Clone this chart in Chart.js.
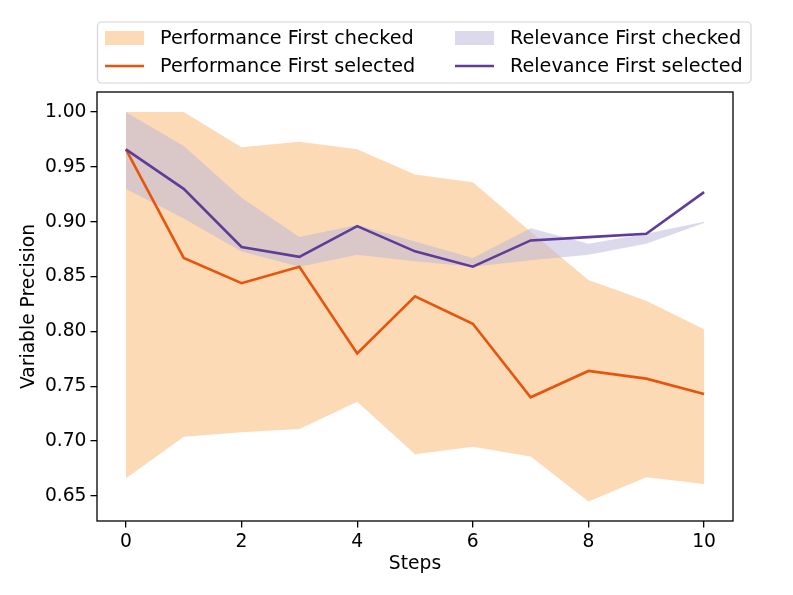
<!DOCTYPE html>
<html>
<head>
<meta charset="utf-8">
<script src="https://cdn.jsdelivr.net/npm/chart.js@4.4.1/dist/chart.umd.min.js"></script>
<style>
  html, body { margin: 0; padding: 0; background: #fff; }
  #wrap { width: 793px; height: 595px; }
</style>
</head>
<body>
<div id="wrap"><canvas id="chart" width="793" height="595"></canvas></div>
<script>
const steps = [0, 1, 2, 3, 4, 5, 6, 7, 8, 9, 10];
const xTicks = [0, 2, 4, 6, 8, 10];
const yTicks = [0.65, 0.70, 0.75, 0.80, 0.85, 0.90, 0.95, 1.00];

const perfSelected = [0.966, 0.867, 0.844, 0.859, 0.780, 0.832, 0.807, 0.740, 0.764, 0.757, 0.743];
const perfCheckedHigh = [1.000, 1.000, 0.968, 0.973, 0.966, 0.943, 0.936, 0.891, 0.847, 0.828, 0.802];
const perfCheckedLow = [0.666, 0.704, 0.708, 0.711, 0.736, 0.688, 0.695, 0.686, 0.645, 0.667, 0.661];

const relSelected = [0.966, 0.930, 0.877, 0.868, 0.896, 0.873, 0.859, 0.883, 0.886, 0.889, 0.927];
const relCheckedHigh = [1.000, 0.969, 0.922, 0.886, 0.897, 0.882, 0.867, 0.894, 0.880, 0.889, 0.900];
const relCheckedLow = [0.930, 0.903, 0.873, 0.859, 0.870, 0.864, 0.859, 0.865, 0.870, 0.880, 0.899];

const ORANGE_FILL = "rgba(253, 208, 162, 0.78)";
const PURPLE_FILL = "rgba(183, 180, 216, 0.5)";
const ORANGE_LINE = "#e6550d";
const PURPLE_LINE = "#5e3c99";
const FONT = "'DejaVu Sans', sans-serif";

const pts = (ys) => steps.map((x, i) => ({ x: x, y: ys[i] }));

function band(ys, color, fillTarget, order) {
  return {
    data: pts(ys),
    borderWidth: 0,
    pointRadius: 0,
    backgroundColor: color,
    fill: fillTarget,
    order: order,
  };
}

// box around the plot, like matplotlib spines
const frame = {
  id: "frame",
  afterDatasetsDraw(chart) {
    const { ctx, chartArea: a } = chart;
    ctx.save();
    ctx.strokeStyle = "#000";
    ctx.lineWidth = 1.3;
    ctx.strokeRect(a.left, a.top, a.right - a.left, a.bottom - a.top);
    ctx.restore();
  },
};

const legendItems = [
  { text: "Performance First checked", kind: "patch", color: ORANGE_FILL, col: 0, row: 0 },
  { text: "Performance First selected", kind: "line", color: ORANGE_LINE, col: 0, row: 1 },
  { text: "Relevance First checked", kind: "patch", color: PURPLE_FILL, col: 1, row: 0 },
  { text: "Relevance First selected", kind: "line", color: PURPLE_LINE, col: 1, row: 1 },
];

const boxLegend = {
  id: "boxLegend",
  afterDraw(chart) {
    const ctx = chart.ctx;
    const bx = 97.5, by = 22, bw = 653.5, bh = 61, r = 4;
    ctx.save();
    ctx.beginPath();
    ctx.roundRect(bx, by, bw, bh, r);
    ctx.fillStyle = "rgba(255,255,255,0.8)";
    ctx.fill();
    ctx.strokeStyle = "#d4d4d4";
    ctx.lineWidth = 1.2;
    ctx.stroke();
    ctx.font = "19.2px " + FONT;
    ctx.textBaseline = "middle";
    ctx.fillStyle = "#000";
    const colX = [105, 455];
    const rowY = [38, 66];
    legendItems.forEach((it) => {
      const x = colX[it.col], y = rowY[it.row];
      if (it.kind === "patch") {
        ctx.fillStyle = it.color;
        ctx.fillRect(x, y - 7, 39, 14);
      } else {
        ctx.strokeStyle = it.color;
        ctx.lineWidth = 2.6;
        ctx.beginPath();
        ctx.moveTo(x, y);
        ctx.lineTo(x + 39, y);
        ctx.stroke();
      }
      ctx.fillStyle = "#000";
      ctx.fillText(it.text, x + 55, y + 1);
    });
    ctx.restore();
  },
};

new Chart(document.getElementById("chart"), {
  type: "line",
  data: {
    datasets: [
      band(perfCheckedHigh, ORANGE_FILL, 1, 50),
      band(perfCheckedLow, "transparent", false, 50),
      band(relCheckedHigh, PURPLE_FILL, 3, 40),
      band(relCheckedLow, "transparent", false, 40),
      {
        data: pts(perfSelected),
        borderColor: ORANGE_LINE,
        borderWidth: 2.6,
        pointRadius: 0,
        fill: false,
        order: 20,
      },
      {
        data: pts(relSelected),
        borderColor: PURPLE_LINE,
        borderWidth: 2.6,
        pointRadius: 0,
        fill: false,
        order: 10,
      },
    ],
  },
  options: {
    responsive: false,
    animation: false,
    layout: { padding: { top: 92, right: 60, left: 0, bottom: 0 } },
    elements: { line: { tension: 0 } },
    plugins: {
      legend: { display: false },
      tooltip: { enabled: false },
    },
    scales: {
      x: {
        type: "linear",
        min: -0.5,
        max: 10.5,
        afterBuildTicks: (s) => { s.ticks = xTicks.map((v) => ({ value: v })); },
        afterFit: (s) => { s.height = 74; },
        grid: { drawOnChartArea: false, drawTicks: true, tickLength: 6.5, color: "#000", lineWidth: 1.3 },
        border: { display: false },
        ticks: { color: "#000", padding: 3, font: { family: FONT, size: 18.7 } },
        title: {
          display: true,
          text: "Steps",
          color: "#000",
          padding: { top: 20, bottom: 20 },
          font: { family: FONT, size: 18.7 },
        },
      },
      y: {
        min: 0.6272,
        max: 1.0183,
        afterBuildTicks: (s) => { s.ticks = yTicks.map((v) => ({ value: v })); },
        afterFit: (s) => { s.width = 97; },
        grid: { drawOnChartArea: false, drawTicks: true, tickLength: 6.5, color: "#000", lineWidth: 1.3 },
        border: { display: false },
        ticks: {
          color: "#000",
          padding: 4,
          font: { family: FONT, size: 18.7 },
          callback: (v) => v.toFixed(2),
        },
        title: {
          display: true,
          text: "Variable Precision",
          color: "#000",
          padding: { top: 18, bottom: 18 },
          font: { family: FONT, size: 18.7 },
        },
      },
    },
  },
  plugins: [frame, boxLegend],
});
</script>
</body>
</html>
